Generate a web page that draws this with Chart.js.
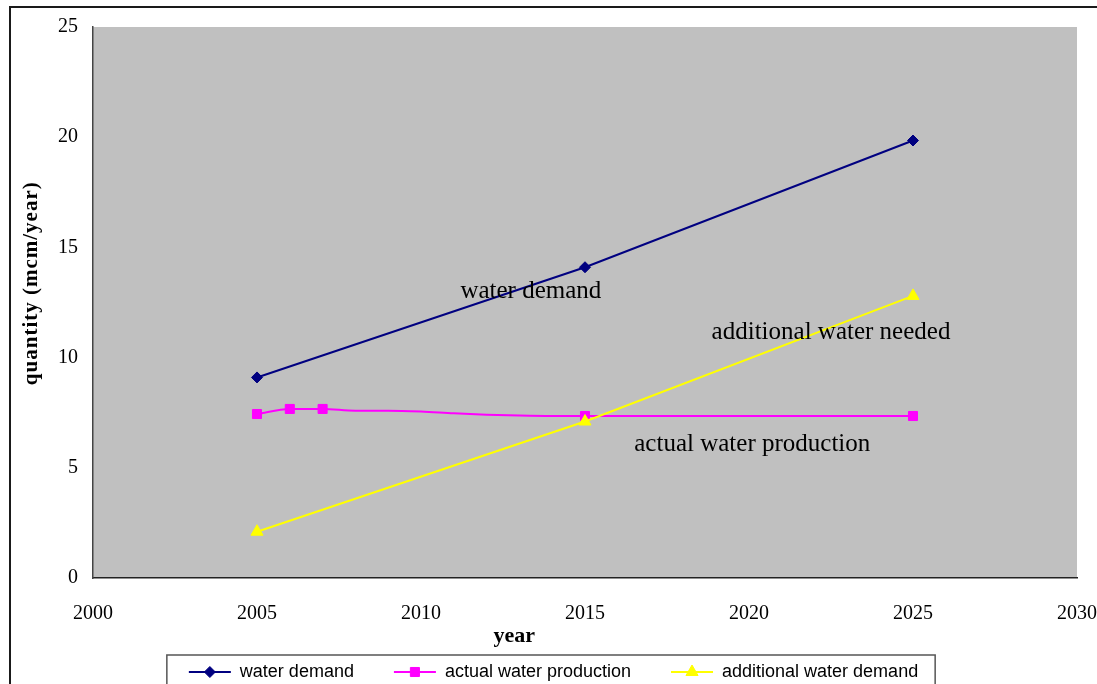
<!DOCTYPE html>
<html>
<head>
<meta charset="utf-8">
<script src="https://cdn.jsdelivr.net/npm/chart.js@4.4.1/dist/chart.umd.min.js"></script>
<style>
  html, body { margin: 0; padding: 0; background: #fff; overflow: hidden; }
  #wrap { position: relative; width: 1097px; height: 700px; }
</style>
</head>
<body>
<div id="wrap"><canvas id="c" width="1097" height="700"></canvas></div>
<script>
// ---- data ----
const years = [2005, 2015, 2025];
const waterDemand = [9.1, 14.1, 19.85];
const additionalDemand = [2.1, 7.1, 12.8];

const productionYears = [2005, 2006, 2007, 2008, 2009, 2010, 2011, 2012, 2013, 2014, 2015, 2025];
const actualProduction = [7.44, 7.67, 7.67, 7.59, 7.59, 7.55, 7.47, 7.41, 7.37, 7.35, 7.35, 7.35];
const productionMarkedYears = [2005, 2006, 2007, 2015, 2025];

const xTicks = [2000, 2005, 2010, 2015, 2020, 2025, 2030];
const yTicks = [0, 5, 10, 15, 20, 25];

const seriesNames = ['water demand', 'actual water production', 'additional water demand'];

// in-plot notes, anchored in data units
const notes = [
  { text: 'water demand', x: 2013.35, y: 13.0 },
  { text: 'additional water needed', x: 2022.5, y: 11.15 },
  { text: 'actual water production', x: 2020.1, y: 6.08 }
];

const NAVY = '#000080', MAGENTA = '#ff00ff', YELLOW = '#ffff00';
const SERIF = '"Liberation Serif", "Times New Roman", serif';
const SANS = '"Liberation Sans", Arial, sans-serif';

const toPoints = (xs, ys) => xs.map((x, i) => ({ x, y: ys[i] }));

const markerSpec = [
  { style: 'rectRot', radius: 5.5, color: NAVY },
  { style: 'rect', radius: 6.4, color: MAGENTA },
  { style: 'triangle', radius: 7, color: YELLOW }
];

const framePlugin = {
  id: 'frame',
  beforeDraw(chart) {
    const { ctx, chartArea: a } = chart;
    ctx.save();
    ctx.fillStyle = '#ffffff';
    ctx.fillRect(0, 0, chart.width, chart.height);
    // outer frame
    ctx.strokeStyle = '#1a1a1a';
    ctx.lineWidth = 2;
    ctx.beginPath();
    ctx.moveTo(10, chart.height);
    ctx.lineTo(10, 7);
    ctx.lineTo(chart.width, 7);
    ctx.stroke();
    // plot background
    ctx.fillStyle = '#c0c0c0';
    ctx.fillRect(a.left, a.top, a.right - a.left, a.bottom - a.top);
    ctx.restore();
  },
  afterDatasetsDraw(chart) {
    const { ctx } = chart;
    const xs = chart.scales.x, ys = chart.scales.y;
    ctx.save();
    ctx.fillStyle = '#000';
    ctx.font = '25px ' + SERIF;
    ctx.textAlign = 'center';
    ctx.textBaseline = 'middle';
    notes.forEach(n => ctx.fillText(n.text, xs.getPixelForValue(n.x), ys.getPixelForValue(n.y)));
    ctx.restore();
  },
  afterDraw(chart) {
    const { ctx } = chart;
    const a = chart.chartArea;
    ctx.save();
    // axis titles
    ctx.fillStyle = '#000';
    ctx.textAlign = 'center';
    ctx.textBaseline = 'middle';
    ctx.font = 'bold 22px ' + SERIF;
    ctx.fillText('year', a.left + (a.right - a.left) * 0.428, 636);
    ctx.save();
    ctx.translate(32, a.top + (a.bottom - a.top) * 0.465);
    ctx.rotate(-Math.PI / 2);
    ctx.font = 'bold 21px ' + SERIF;
    try { ctx.letterSpacing = '1px'; } catch (e) {}
    ctx.fillText('quantity (mcm/year)', 0, 0);
    ctx.restore();

    // legend markers and border
    const lg = chart.legend;
    if (lg && lg.legendHitBoxes && lg.legendHitBoxes.length) {
      const bw = lg.options.labels.boxWidth;
      lg.legendHitBoxes.forEach((hb, i) => {
        const m = markerSpec[lg.legendItems[i].datasetIndex];
        const cx = hb.left + bw / 2, cy = hb.top + hb.height / 2;
        ctx.fillStyle = m.color;
        ctx.strokeStyle = m.color;
        ctx.lineWidth = 1;
        Chart.helpers.drawPoint(ctx, { pointStyle: m.style, radius: m.radius, rotation: 0, borderWidth: 1 }, cx, cy);
      });
      const first = lg.legendHitBoxes[0];
      const last = lg.legendHitBoxes[lg.legendHitBoxes.length - 1];
      const cy = first.top + first.height / 2;
      ctx.strokeStyle = '#555';
      ctx.lineWidth = 1.5;
      ctx.strokeRect(first.left - 22, cy - 17, last.left + last.width + 17 - (first.left - 22), 60);
    }
    ctx.restore();
  }
};

new Chart(document.getElementById('c'), {
  type: 'line',
  data: {
    datasets: [
      {
        label: seriesNames[0],
        data: toPoints(years, waterDemand),
        borderColor: NAVY, backgroundColor: NAVY,
        borderWidth: 2, tension: 0, order: 2,
        pointStyle: 'rectRot', pointRadius: 5.5, pointBorderWidth: 1
      },
      {
        label: seriesNames[1],
        data: toPoints(productionYears, actualProduction),
        borderColor: MAGENTA, backgroundColor: MAGENTA,
        borderWidth: 2, tension: 0.4, cubicInterpolationMode: 'monotone', order: 1,
        pointStyle: 'rect',
        pointRadius: productionYears.map(y => productionMarkedYears.includes(y) ? 6.4 : 0),
        pointBorderWidth: 1
      },
      {
        label: seriesNames[2],
        data: toPoints(years, additionalDemand),
        borderColor: YELLOW, backgroundColor: YELLOW,
        borderWidth: 2, tension: 0, order: 0,
        pointStyle: 'triangle', pointRadius: 7, pointBorderWidth: 1
      }
    ]
  },
  options: {
    responsive: false,
    animation: false,
    devicePixelRatio: 1,
    layout: { padding: { left: 10, right: 0, top: 27, bottom: 9 } },
    plugins: {
      tooltip: { enabled: false },
      legend: {
        display: true,
        position: 'bottom',
        labels: {
          boxWidth: 42,
          boxHeight: 2,
          padding: 40,
          color: '#000',
          font: { family: SANS, size: 18 },
          sort: (a, b) => a.datasetIndex - b.datasetIndex,
          generateLabels(chart) {
            return Chart.defaults.plugins.legend.labels.generateLabels(chart).map(it => {
              it.fillStyle = it.strokeStyle;
              it.lineWidth = 0;
              return it;
            });
          }
        }
      }
    },
    scales: {
      x: {
        type: 'linear',
        min: xTicks[0], max: xTicks[xTicks.length - 1],
        afterBuildTicks(s) { s.ticks = xTicks.map(v => ({ value: v })); },
        afterFit(s) { s.height = 45; s.paddingRight = 20; s.paddingLeft = 0; },
        grid: { display: false, drawTicks: false },
        border: { display: true, color: '#222', width: 1.5 },
        ticks: {
          padding: 24,
          color: '#000',
          font: { family: SERIF, size: 20 },
          maxRotation: 0,
          callback: v => String(v)
        }
      },
      y: {
        type: 'linear',
        min: yTicks[0], max: yTicks[yTicks.length - 1],
        afterBuildTicks(s) { s.ticks = yTicks.map(v => ({ value: v })); },
        afterFit(s) { s.width = 83; },
        grid: { display: false, drawTicks: false },
        border: { display: true, color: '#444', width: 1.5 },
        ticks: {
          padding: 15,
          color: '#000',
          font: { family: SERIF, size: 20 },
          callback: v => String(v)
        }
      }
    }
  },
  plugins: [framePlugin]
});
</script>
</body>
</html>
